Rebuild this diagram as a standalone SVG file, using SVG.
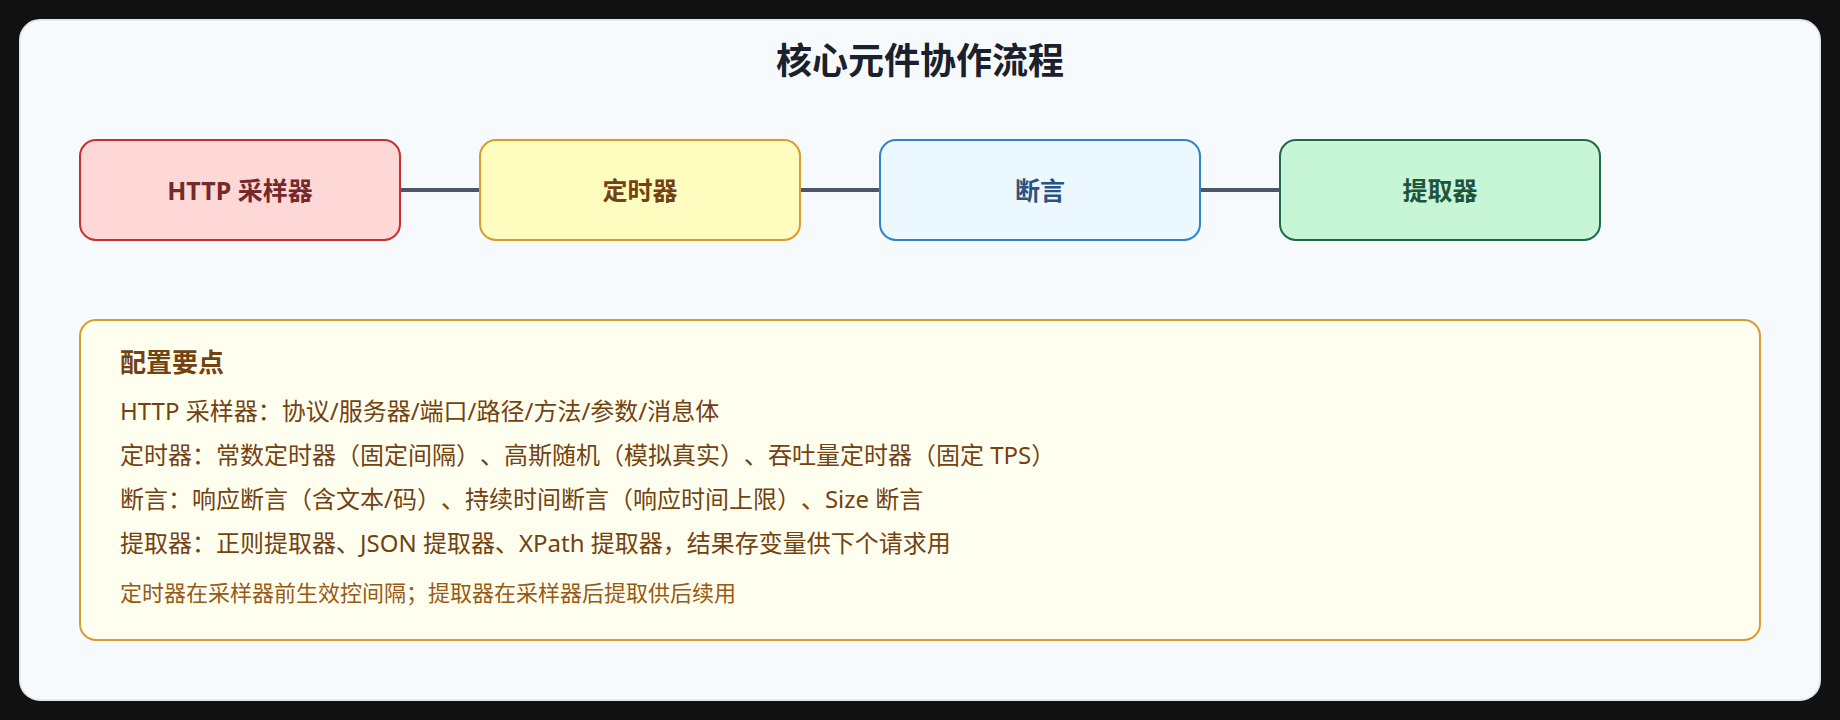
<svg xmlns="http://www.w3.org/2000/svg" width="1840" height="720" viewBox="0 0 1840 720">
  <style>
    text { font-family: "Noto Sans", "Noto Sans CJK SC", sans-serif; text-spacing-trim: space-all; }
    .title { font-size: 36px; font-weight: 700; fill: #1a202c; }
    .node rect { stroke-width: 2; }
    .lbl { font-size: 25px; font-weight: 700; text-anchor: middle; }
    .conn line { stroke: #4a5568; stroke-width: 4; }
    .head { font-size: 26px; font-weight: 700; fill: #744210; }
    .body { font-size: 24px; fill: #744210; }
    .note { font-size: 22px; fill: #975a16; }
  </style>
  <rect x="0" y="0" width="1840" height="720" fill="#111111"/>
  <rect x="20" y="20" width="1800" height="680" rx="20" fill="#f7fafc" stroke="#e2e8f0" stroke-width="2"/>
  <text class="title" x="920" y="74" text-anchor="middle">核心元件协作流程</text>

  <g id="connectors" class="conn">
    <line x1="400" y1="190" x2="480" y2="190"/>
    <line x1="800" y1="190" x2="880" y2="190"/>
    <line x1="1200" y1="190" x2="1280" y2="190"/>
  </g>

  <g id="node-http" class="node">
    <rect x="80" y="140" width="320" height="100" rx="16" fill="#fed7d7" stroke="#c53030"/>
    <text class="lbl" x="240" y="200" fill="#742a2a">HTTP 采样器</text>
  </g>
  <g id="node-timer" class="node">
    <rect x="480" y="140" width="320" height="100" rx="16" fill="#fefcbf" stroke="#d69e2e"/>
    <text class="lbl" x="640" y="200" fill="#744210">定时器</text>
  </g>
  <g id="node-assert" class="node">
    <rect x="880" y="140" width="320" height="100" rx="16" fill="#ebf8ff" stroke="#3182ce"/>
    <text class="lbl" x="1040" y="200" fill="#2c5282">断言</text>
  </g>
  <g id="node-extract" class="node">
    <rect x="1280" y="140" width="320" height="100" rx="16" fill="#c6f6d5" stroke="#276749"/>
    <text class="lbl" x="1440" y="200" fill="#22543d">提取器</text>
  </g>

  <g id="config-notes">
    <rect x="80" y="320" width="1680" height="320" rx="16" fill="#fffff0" stroke="#d69e2e" stroke-width="2"/>
    <text class="head" x="120" y="372">配置要点</text>
    <text class="body" x="120" y="420">HTTP 采样器：协议/服务器/端口/路径/方法/参数/消息体</text>
    <text class="body" x="120" y="464">定时器：常数定时器（固定间隔）、高斯随机（模拟真实）、吞吐量定时器（固定 TPS）</text>
    <text class="body" x="120" y="508">断言：响应断言（含文本/码）、持续时间断言（响应时间上限）、Size 断言</text>
    <text class="body" x="120" y="552">提取器：正则提取器、JSON 提取器、XPath 提取器，结果存变量供下个请求用</text>
    <text class="note" x="120" y="601">定时器在采样器前生效控间隔；提取器在采样器后提取供后续用</text>
  </g>
</svg>
